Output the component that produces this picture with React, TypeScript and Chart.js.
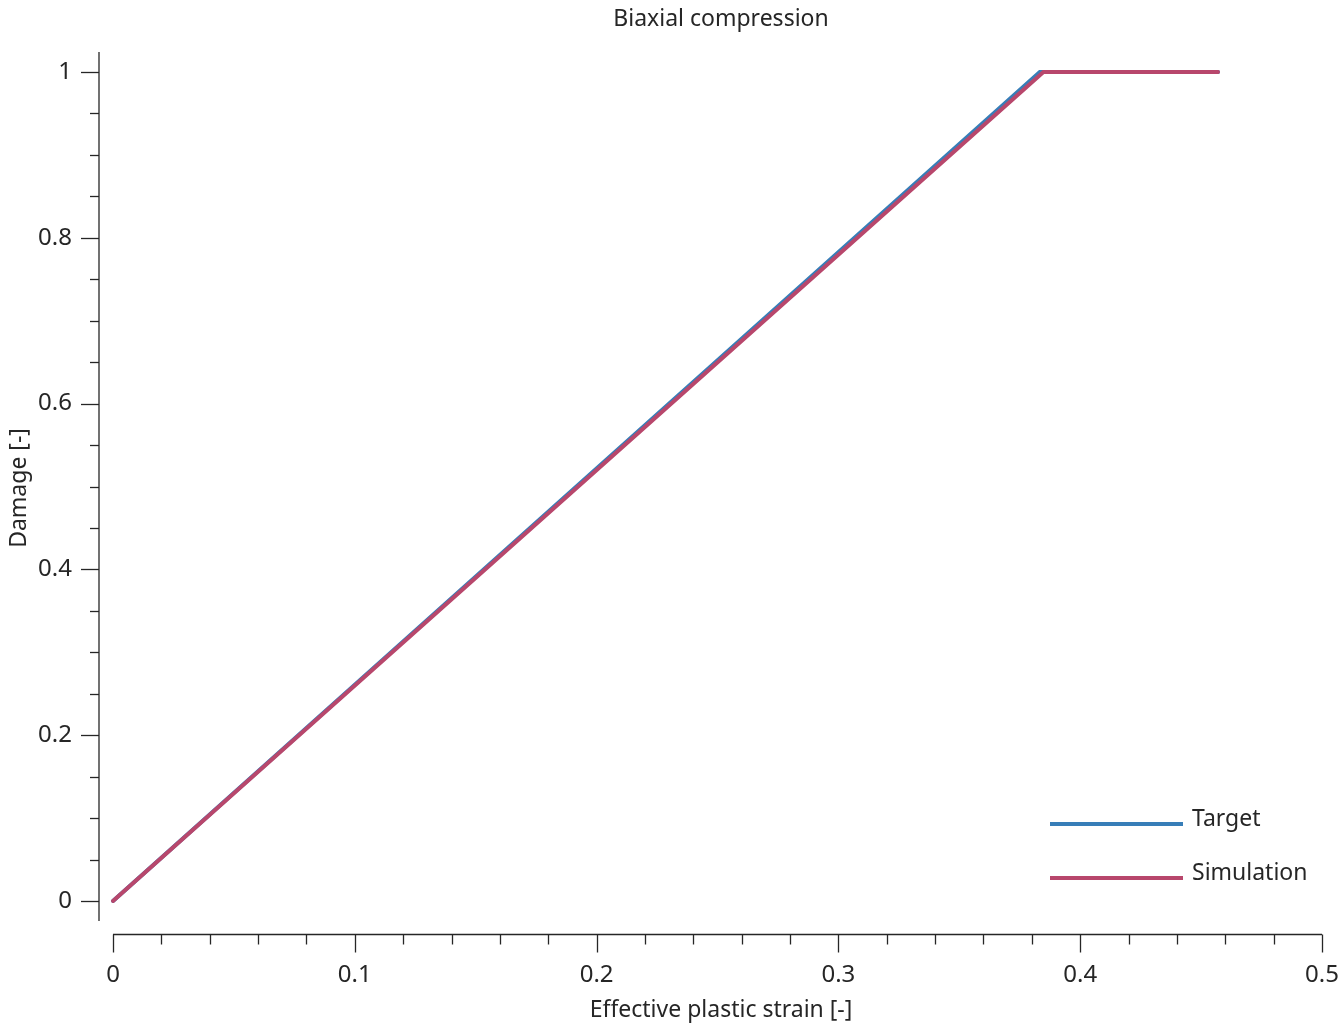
import React, { useEffect, useRef } from "react";
import { Chart, registerables } from "chart.js";

Chart.register(...registerables);

const targetStrain = [0, 0.3833, 0.457];
const targetDamage = [0, 1, 1];
const simStrain = [0, 0.3848, 0.457];
const simDamage = [0, 1, 1];

const xMajorTicks = [0, 0.1, 0.2, 0.3, 0.4, 0.5];
const xTickLabels = ["0", "0.1", "0.2", "0.3", "0.4", "0.5"];
const xMinorStep = 0.02;
const yMajorTicks = [0, 0.2, 0.4, 0.6, 0.8, 1];
const yTickLabels = ["0", "0.2", "0.4", "0.6", "0.8", "1"];
const yMinorStep = 0.05;

const seriesNames = ["Target", "Simulation"];
const seriesColors = ["#377eb8", "#b8476c"];

const titleText = "Biaxial compression";
const xLabel = "Effective plastic strain [-]";
const yLabel = "Damage [-]";

const FONT = "'Noto Sans', 'Open Sans', sans-serif";
const INK = "#262626";

export default function App() {
  const ref = useRef<HTMLCanvasElement | null>(null);
  useEffect(() => {
    if (!ref.current) return;
    const axesPlugin = {
      id: "axesPlugin",
      afterDraw(chart: any) {
        const ctx = chart.ctx as CanvasRenderingContext2D;
        const xs = chart.scales.x;
        const ys = chart.scales.y;
        const area = chart.chartArea;
        ctx.save();
        ctx.strokeStyle = INK;
        ctx.fillStyle = INK;
        ctx.lineWidth = 1.3;
        // y spine
        ctx.beginPath();
        ctx.moveTo(area.left, area.top);
        ctx.lineTo(area.left, area.bottom);
        ctx.stroke();
        // y ticks
        for (let k = 0; k <= Math.round(1 / yMinorStep); k++) {
          const v = k * yMinorStep;
          const py = Math.round(ys.getPixelForValue(v)) + 0.5;
          const major = yMajorTicks.some((m) => Math.abs(m - v) < 1e-9);
          ctx.beginPath();
          ctx.moveTo(area.left - (major ? 18 : 9), py);
          ctx.lineTo(area.left, py);
          ctx.stroke();
        }
        ctx.font = `24px ${FONT}`;
        ctx.textAlign = "right";
        ctx.textBaseline = "middle";
        yMajorTicks.forEach((v, i) => {
          ctx.fillText(yTickLabels[i], area.left - 27, ys.getPixelForValue(v));
        });
        // x spine
        const xAxisY = area.bottom + 13.5;
        const x0 = xs.getPixelForValue(xMajorTicks[0]);
        const x1 = xs.getPixelForValue(xMajorTicks[xMajorTicks.length - 1]);
        ctx.beginPath();
        ctx.moveTo(x0, xAxisY);
        ctx.lineTo(x1, xAxisY);
        ctx.stroke();
        for (let k = 0; k <= Math.round(0.5 / xMinorStep); k++) {
          const v = k * xMinorStep;
          const px = Math.round(xs.getPixelForValue(v)) + 0.5;
          const major = xMajorTicks.some((m) => Math.abs(m - v) < 1e-9);
          ctx.beginPath();
          ctx.moveTo(px, xAxisY);
          ctx.lineTo(px, xAxisY + (major ? 18 : 10));
          ctx.stroke();
        }
        ctx.textAlign = "center";
        ctx.textBaseline = "middle";
        xMajorTicks.forEach((v, i) => {
          ctx.fillText(xTickLabels[i], xs.getPixelForValue(v), 975);
        });
        // labels
        ctx.font = `23px ${FONT}`;
        ctx.fillText(xLabel, 721, 1010);
        ctx.fillText(titleText, 721, 19);
        ctx.save();
        ctx.translate(19, 488);
        ctx.rotate(-Math.PI / 2);
        ctx.fillText(yLabel, 0, 0);
        ctx.restore();
        // legend
        const legendY = [824, 878];
        seriesNames.forEach((name, i) => {
          ctx.strokeStyle = seriesColors[i];
          ctx.lineWidth = 4;
          ctx.beginPath();
          ctx.moveTo(1050, legendY[i]);
          ctx.lineTo(1183, legendY[i]);
          ctx.stroke();
          ctx.fillStyle = INK;
          ctx.textAlign = "left";
          ctx.textBaseline = "middle";
          ctx.fillText(name, 1192, legendY[i] - 5);
        });
        ctx.restore();
      },
    };

    const chart = new Chart(ref.current, {
      type: "line",
      data: {
        datasets: [
          {
            label: seriesNames[0],
            data: targetStrain.map((x, i) => ({ x, y: targetDamage[i] })),
            borderColor: seriesColors[0],
            borderWidth: 4,
            pointRadius: 0,
            tension: 0,
            borderCapStyle: "round",
            order: 2,
          },
          {
            label: seriesNames[1],
            data: simStrain.map((x, i) => ({ x, y: simDamage[i] })),
            borderColor: seriesColors[1],
            borderWidth: 4,
            pointRadius: 0,
            tension: 0,
            borderCapStyle: "round",
            order: 1,
          },
        ],
      },
      options: {
        animation: false,
        responsive: false,
        events: [],
        layout: { padding: { left: 99, right: 9, top: 52, bottom: 103 } },
        plugins: { legend: { display: false }, title: { display: false }, tooltip: { enabled: false } },
        scales: {
          x: { type: "linear", display: false, min: -0.00579, max: 0.50331 },
          y: { type: "linear", display: false, min: -0.02413, max: 1.02413 },
        },
      },
      plugins: [axesPlugin],
    });
    return () => chart.destroy();
  }, []);
  return (
    <div style={{ position: "fixed", left: 0, top: 0, width: 1339, height: 1024, background: "#fff" }}>
      <canvas ref={ref} width={1339} height={1024} style={{ width: 1339, height: 1024 }} />
    </div>
  );
}
